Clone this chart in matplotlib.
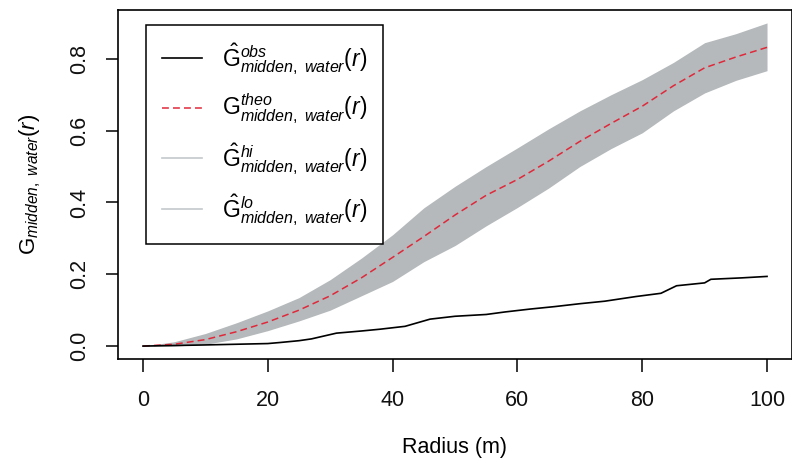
import matplotlib
matplotlib.use("Agg")
import matplotlib.pyplot as plt
from matplotlib.lines import Line2D

plt.rcParams['font.family'] = ['Liberation Sans', 'DejaVu Sans']
plt.rcParams['mathtext.fontset'] = 'custom'
plt.rcParams['mathtext.rm'] = 'Liberation Sans'
plt.rcParams['mathtext.it'] = 'Liberation Sans:italic'
plt.rcParams['mathtext.bf'] = 'Liberation Sans:bold'

# ---- data ----
env_r = [0, 5, 10, 15, 20, 25, 30, 35, 40, 45, 50, 55, 60, 65, 70, 75, 80, 85, 90, 95, 100]
theo_g = [0, 0.005, 0.018, 0.040, 0.067, 0.100, 0.140, 0.190, 0.247, 0.305, 0.365, 0.420,
          0.464, 0.515, 0.570, 0.620, 0.668, 0.725, 0.775, 0.805, 0.832]
hi_g = [0, 0.012, 0.035, 0.065, 0.098, 0.135, 0.185, 0.245, 0.310, 0.385, 0.445, 0.500,
        0.552, 0.605, 0.655, 0.700, 0.742, 0.790, 0.845, 0.870, 0.900]
lo_g = [0, 0.000, 0.005, 0.020, 0.043, 0.070, 0.100, 0.140, 0.180, 0.235, 0.280, 0.335,
        0.386, 0.440, 0.500, 0.550, 0.594, 0.655, 0.705, 0.740, 0.767]

obs_r = [0, 9.5, 20, 22, 25, 27, 29, 31, 35, 38, 42, 44, 46, 50, 55, 58, 62, 66, 70, 74,
         79, 83, 85.5, 90, 91, 96, 100]
obs_g = [0, 0.003, 0.007, 0.010, 0.015, 0.020, 0.028, 0.036, 0.042, 0.047, 0.055, 0.065,
         0.075, 0.083, 0.088, 0.095, 0.103, 0.110, 0.118, 0.125, 0.138, 0.147, 0.168,
         0.176, 0.186, 0.190, 0.194]

x_ticks = [0, 20, 40, 60, 80, 100]
y_ticks = [0.0, 0.2, 0.4, 0.6, 0.8]
y_tick_labels = ['0.0', '0.2', '0.4', '0.6', '0.8']

labels = [r'$\hat{\mathrm{G}}^{obs}_{midden,\ water}\mathrm{(}r\mathrm{)}$',
          r'$\mathrm{G}^{theo}_{midden,\ water}\mathrm{(}r\mathrm{)}$',
          r'$\hat{\mathrm{G}}^{hi}_{midden,\ water}\mathrm{(}r\mathrm{)}$',
          r'$\hat{\mathrm{G}}^{lo}_{midden,\ water}\mathrm{(}r\mathrm{)}$']

RED = '#e0283a'
DASH = (0, (4.5, 2.7))

W, H = 792, 466
fig = plt.figure(figsize=(W / 100, H / 100), dpi=100)
ax = fig.add_axes([118 / W, 1 - 359 / H, (792 - 118) / W, (359 - 10) / H])

ax.fill_between(env_r, lo_g, hi_g, color='#b5b9bb', linewidth=0)
ax.plot(env_r, theo_g, color=RED, linestyle=DASH, linewidth=1.1)
ax.plot(obs_r, obs_g, color='black', linewidth=1.2)

ax.set_xlim(-4, 104)
ax.set_ylim(-0.036, 0.936)
ax.set_xticks(x_ticks)
ax.set_xticklabels([str(v) for v in x_ticks])
ax.set_yticks(y_ticks)
ax.set_yticklabels(y_tick_labels, rotation=90, va='center')
ax.tick_params(axis='x', direction='out', length=9, width=1.1, labelsize=15.5, pad=13,
               color='black', labelcolor='#111111')
ax.tick_params(axis='y', direction='out', length=9, width=1.1, labelsize=15.5, pad=11,
               color='black', labelcolor='#111111')
for s in ax.spines.values():
    s.set_linewidth(1.2)

ax.set_xlabel('Radius (m)', fontsize=15.5, labelpad=19)
ax.set_ylabel(r'$\mathrm{G}_{midden,\ water}\mathrm{(}r\mathrm{)}$', fontsize=16, labelpad=19)

handles = [Line2D([], [], color='black', linewidth=1.2),
           Line2D([], [], color=RED, linestyle=DASH, linewidth=1.1),
           Line2D([], [], color='#c4c8cc', linewidth=1.2),
           Line2D([], [], color='#c4c8cc', linewidth=1.2)]
leg = ax.legend(handles, labels, loc='upper left',
                bbox_to_anchor=((146 - 118) / 674, (359 - 25) / 349),
                borderaxespad=0, fontsize=16.5, handlelength=1.75, handletextpad=0.85,
                labelspacing=0.66, borderpad=0.7, fancybox=False, framealpha=1,
                edgecolor='black')
leg.get_frame().set_linewidth(1.1)

fig.savefig('out.png', dpi=100)
